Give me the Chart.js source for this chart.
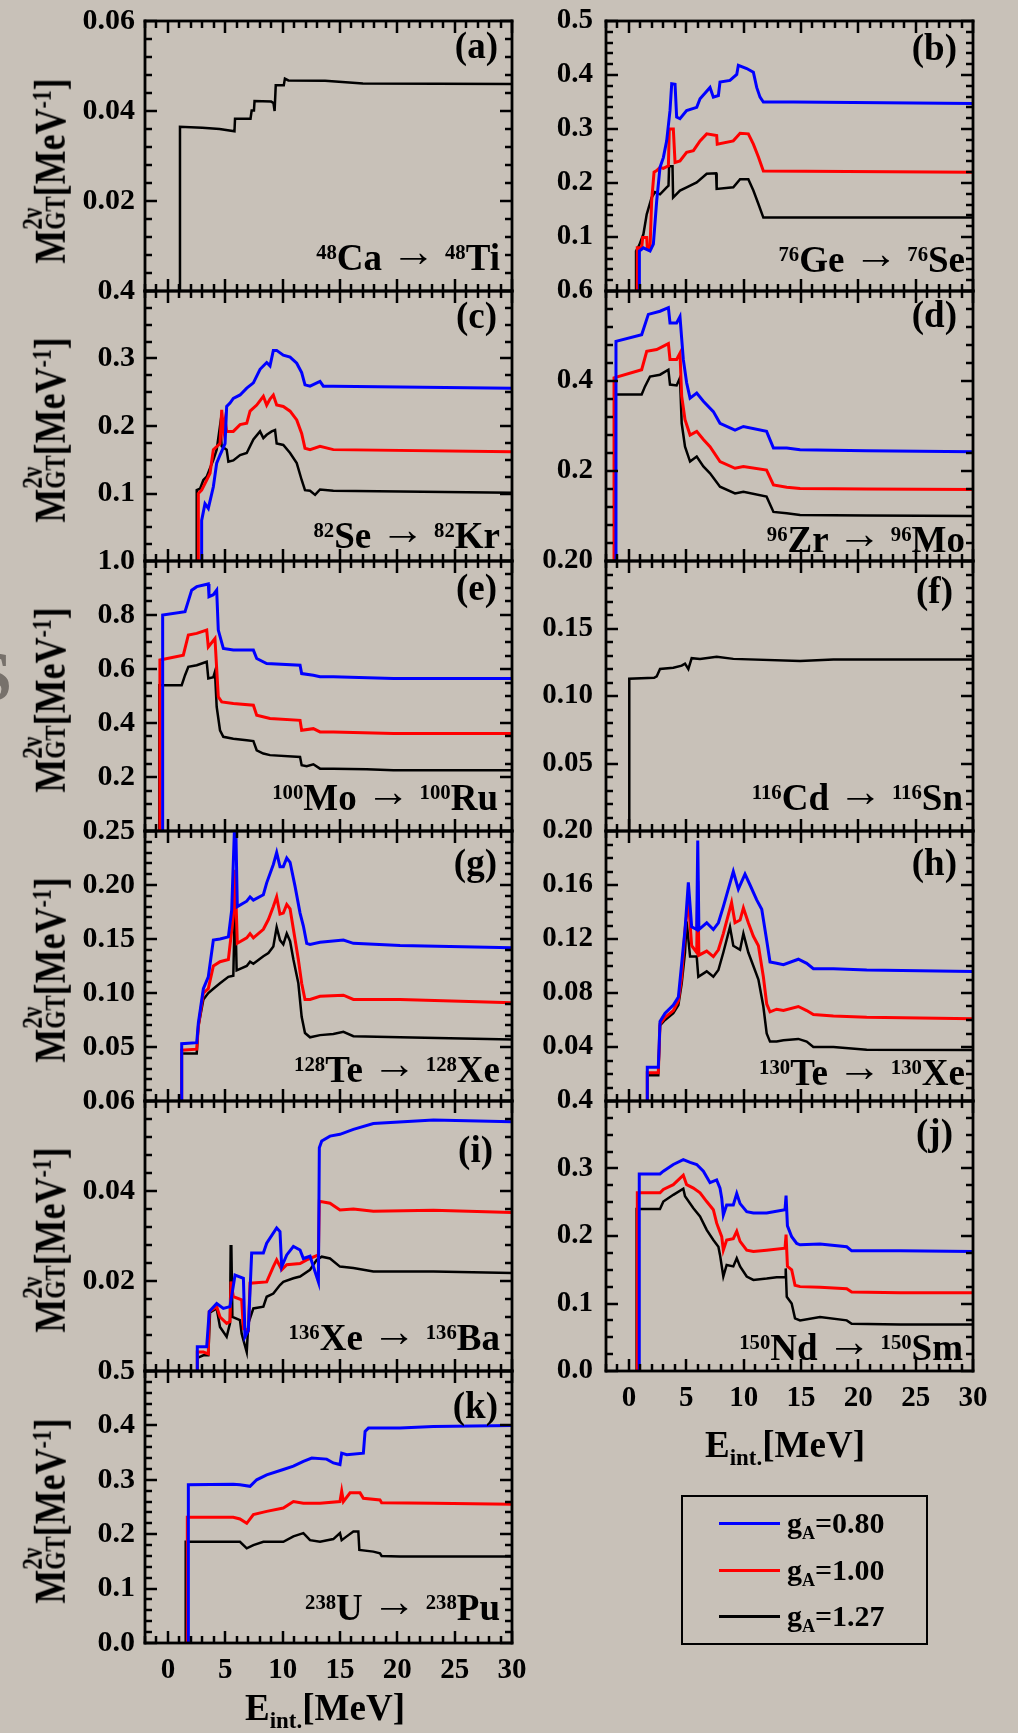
<!DOCTYPE html>
<html>
<head>
<meta charset="utf-8">
<script src="https://cdn.jsdelivr.net/npm/chart.js@4.4.0/dist/chart.umd.min.js"></script>
<style>
  body { margin: 0; background: #c8c1b8; }
  #page { position: relative; width: 1018px; height: 1733px; overflow: hidden;
          font-family: "Liberation Serif", "Times New Roman", serif; font-weight: bold; color: #000; }
  canvas { position: absolute; }
  .txt { position: absolute; white-space: nowrap; line-height: 1; }
  .sp { font-size: 0.56em; position: relative; top: -0.55em; }
  .sb { font-size: 0.62em; position: relative; top: 0.35em; }
  .arr { font-family: "Liberation Sans", Arial, sans-serif; font-weight: normal; font-size: 1.2em;
         line-height: 0; position: relative; top: -0.1em; }
  .yt { position: absolute; white-space: nowrap; line-height: 1; font-size: 36px;
        transform: translate(-50%, -50%) rotate(-90deg) scaleY(1.25); }
  .yt .sp { font-size: 0.6em; top: -0.5em; }
  .stk { display: inline-block; font-size: 0.64em; line-height: 0.78; vertical-align: baseline; }
  .stk span { display: block; }
  #ghost { position: absolute; left: -27px; top: 642px; font-size: 70px; line-height: 1; color: #77716b; }
  #legend { position: absolute; left: 681px; top: 1495px; width: 247px; height: 150px;
            box-sizing: border-box; border: 2.5px solid #000; }
  #legend .ln { position: absolute; left: 36px; width: 61px; height: 2.5px; }
  #legend .lt { position: absolute; left: 104px; font-size: 30px; line-height: 1; white-space: nowrap; }
</style>
</head>
<body>
<div id="page"><div id="ghost">S</div></div>
<script>
// E_int. tick labels shared by all panels
var xTickLabels = [0, 5, 10, 15, 20, 25, 30];

// y tick labels per panel
var yTicksA = [0.02, 0.04, 0.06];
var yTicksB = [0.1, 0.2, 0.3, 0.4, 0.5];
var yTicksC = [0.1, 0.2, 0.3, 0.4];
var yTicksD = [0.2, 0.4, 0.6];
var yTicksE = [0.2, 0.4, 0.6, 0.8, 1.0];
var yTicksF = [0.05, 0.10, 0.15, 0.20];
var yTicksG = [0.05, 0.10, 0.15, 0.20, 0.25];
var yTicksH = [0.04, 0.08, 0.12, 0.16, 0.20];
var yTicksI = [0.02, 0.04, 0.06];
var yTicksJ = [0.0, 0.1, 0.2, 0.3, 0.4];
var yTicksK = [0.0, 0.1, 0.2, 0.3, 0.4, 0.5];

var gaValues = ["0.80", "1.00", "1.27"];
var seriesColors = ["#0000ff", "#ff0000", "#000000"];

// (a) 48Ca -> 48Ti
var caX = [1.05, 1.05, 3.0, 4.5, 5.8, 5.85, 7.2, 7.3, 7.5, 7.55, 9.0, 9.2, 9.3, 9.4, 10.1, 10.2, 10.5, 13.7, 17.0, 30];
var caY = [0, 0.0365, 0.0363, 0.0360, 0.0355, 0.0383, 0.0383, 0.0401, 0.0401, 0.0422, 0.0421, 0.0418, 0.0400, 0.0457, 0.0457, 0.0472, 0.0468, 0.0467, 0.0461, 0.0460];

// (b) 76Ge -> 76Se
var geX080 = [0.91, 0.91, 1.26, 1.84, 2.13, 2.42, 2.71, 3.0, 3.29, 3.58, 3.73, 4.02, 4.16, 4.45, 5.03, 5.91, 6.2, 7.07, 7.36, 7.8, 7.94, 8.81, 9.4, 9.54, 10.27, 10.85, 11.14, 11.43, 11.72, 14.34, 30];
var geY080 = [0, 0.074, 0.080, 0.074, 0.087, 0.167, 0.229, 0.247, 0.278, 0.334, 0.384, 0.383, 0.322, 0.319, 0.334, 0.340, 0.356, 0.377, 0.359, 0.362, 0.387, 0.390, 0.401, 0.418, 0.412, 0.405, 0.377, 0.359, 0.350, 0.350, 0.347];
var geX100 = [0.73, 0.73, 1.11, 1.2, 1.55, 1.6, 1.84, 1.98, 2.19, 2.42, 2.71, 3.0, 3.44, 3.52, 3.87, 4.02, 4.45, 5.03, 5.62, 6.2, 6.78, 7.65, 7.7, 9.1, 9.4, 9.69, 10.41, 10.85, 11.29, 11.72, 30];
var geY100 = [0, 0.080, 0.080, 0.099, 0.099, 0.080, 0.080, 0.167, 0.220, 0.223, 0.229, 0.227, 0.232, 0.300, 0.300, 0.238, 0.241, 0.257, 0.260, 0.278, 0.291, 0.288, 0.272, 0.278, 0.285, 0.292, 0.291, 0.272, 0.248, 0.222, 0.220];
var geX127 = [0.62, 0.62, 0.9, 1.26, 1.55, 1.98, 2.27, 2.71, 3.29, 3.45, 3.5, 3.8, 3.85, 4.45, 5.03, 5.91, 6.78, 7.6, 7.65, 9.1, 9.69, 10.41, 10.85, 11.29, 11.72, 30];
var geY127 = [0, 0.074, 0.085, 0.105, 0.142, 0.173, 0.183, 0.179, 0.192, 0.195, 0.231, 0.231, 0.173, 0.186, 0.192, 0.201, 0.217, 0.218, 0.189, 0.192, 0.207, 0.207, 0.186, 0.161, 0.136, 0.136];

// (c) 82Se -> 82Kr
var seX080 = [2.94, 2.94, 3.23, 3.52, 3.96, 4.25, 4.54, 4.98, 5.12, 5.41, 5.7, 6.29, 6.87, 7.45, 8.03, 8.61, 8.9, 9.19, 9.48, 10.06, 10.65, 11.23, 11.66, 11.95, 12.39, 13.26, 13.55, 14.42, 30];
var seY080 = [0, 0.060, 0.085, 0.078, 0.110, 0.145, 0.157, 0.174, 0.229, 0.234, 0.241, 0.246, 0.256, 0.264, 0.284, 0.294, 0.289, 0.312, 0.312, 0.305, 0.302, 0.293, 0.279, 0.261, 0.259, 0.266, 0.259, 0.259, 0.256];
var seX100 = [2.65, 2.65, 2.94, 3.38, 3.67, 3.96, 4.54, 4.69, 4.83, 4.98, 5.12, 5.7, 6.29, 6.87, 7.16, 7.74, 8.32, 8.61, 8.9, 9.19, 9.48, 10.06, 10.65, 11.23, 11.66, 11.95, 12.39, 13.26, 14.42, 30];
var seY100 = [0, 0.100, 0.105, 0.120, 0.130, 0.165, 0.174, 0.224, 0.194, 0.209, 0.192, 0.192, 0.202, 0.204, 0.222, 0.231, 0.244, 0.231, 0.240, 0.246, 0.231, 0.229, 0.222, 0.209, 0.189, 0.167, 0.165, 0.170, 0.165, 0.162];
var seX127 = [2.51, 2.51, 2.8, 3.09, 3.38, 3.96, 4.25, 4.54, 4.69, 5.12, 5.27, 5.7, 6.29, 6.87, 7.45, 8.03, 8.32, 8.61, 9.05, 9.34, 9.48, 10.06, 10.65, 11.23, 11.66, 11.95, 12.39, 12.83, 13.26, 14.42, 30];
var seY127 = [0, 0.105, 0.107, 0.120, 0.125, 0.150, 0.165, 0.200, 0.170, 0.165, 0.147, 0.149, 0.157, 0.160, 0.180, 0.192, 0.182, 0.187, 0.192, 0.194, 0.174, 0.172, 0.160, 0.145, 0.120, 0.105, 0.104, 0.098, 0.106, 0.104, 0.101];

// (d) 96Zr -> 96Mo
var zrX080 = [-1.13, -1.13, 1.11, 1.69, 2.71, 3.44, 3.58, 4.16, 4.45, 4.74, 5.03, 5.33, 5.91, 6.49, 7.36, 7.94, 9.25, 9.98, 12.0, 12.6, 13.76, 14.92, 20.7, 30];
var zrY080 = [0, 0.488, 0.503, 0.548, 0.555, 0.563, 0.529, 0.529, 0.543, 0.448, 0.396, 0.362, 0.373, 0.355, 0.332, 0.306, 0.291, 0.299, 0.288, 0.251, 0.251, 0.247, 0.245, 0.243];
var zrX100 = [-1.3, -1.3, 1.11, 1.55, 2.42, 3.44, 3.58, 4.16, 4.45, 4.6, 4.89, 5.33, 5.91, 6.49, 7.07, 7.94, 9.25, 9.98, 12.0, 12.6, 13.76, 14.92, 20.7, 30];
var zrY100 = [0, 0.407, 0.425, 0.466, 0.470, 0.483, 0.448, 0.448, 0.462, 0.366, 0.314, 0.280, 0.288, 0.270, 0.254, 0.221, 0.206, 0.210, 0.202, 0.169, 0.164, 0.161, 0.160, 0.159];
var zrX127 = [-1.22, -1.22, 1.11, 1.4, 1.84, 2.71, 3.44, 3.58, 4.16, 4.45, 4.6, 4.89, 5.33, 5.91, 6.49, 7.07, 7.94, 9.25, 9.98, 12.0, 12.6, 13.76, 14.92, 20.7, 30];
var zrY127 = [0, 0.370, 0.370, 0.388, 0.410, 0.414, 0.425, 0.392, 0.390, 0.407, 0.306, 0.254, 0.221, 0.232, 0.210, 0.195, 0.165, 0.150, 0.154, 0.143, 0.109, 0.106, 0.102, 0.101, 0.100];

// (e) 100Mo -> 100Ru
var moX080 = [-0.46, -0.46, 1.49, 2.07, 2.51, 3.52, 3.58, 3.96, 4.25, 4.39, 4.83, 5.7, 7.45, 7.74, 8.61, 11.52, 11.66, 12.68, 13.26, 14.42, 19.66, 30];
var moY080 = [0, 0.800, 0.812, 0.892, 0.905, 0.915, 0.868, 0.875, 0.892, 0.744, 0.676, 0.670, 0.670, 0.639, 0.620, 0.614, 0.583, 0.577, 0.571, 0.571, 0.565, 0.565];
var moX100 = [-0.7, -0.7, 1.34, 1.78, 2.51, 3.38, 3.52, 4.1, 4.39, 4.69, 5.7, 7.45, 7.74, 8.9, 11.52, 11.66, 12.68, 13.26, 14.42, 19.66, 30];
var moY100 = [0, 0.633, 0.651, 0.726, 0.732, 0.744, 0.682, 0.713, 0.497, 0.478, 0.472, 0.466, 0.429, 0.417, 0.410, 0.373, 0.379, 0.367, 0.367, 0.361, 0.361];
var moX127 = [-0.75, -0.75, 1.2, 1.49, 1.78, 2.51, 3.38, 3.52, 3.96, 4.1, 4.25, 4.54, 4.83, 5.7, 6.87, 7.45, 7.74, 8.32, 8.9, 11.52, 11.66, 12.1, 12.68, 13.26, 14.42, 17.33, 19.66, 30];
var moY127 = [0, 0.540, 0.540, 0.577, 0.608, 0.614, 0.627, 0.565, 0.570, 0.590, 0.460, 0.373, 0.349, 0.342, 0.336, 0.333, 0.299, 0.287, 0.281, 0.274, 0.244, 0.240, 0.247, 0.231, 0.231, 0.229, 0.225, 0.225];

// (f) 116Cd -> 116Sn
var cdX = [0.03, 0.03, 2.2, 2.42, 2.71, 3.87, 4.6, 4.89, 5.18, 5.47, 6.2, 7.65, 9.1, 14.92, 17.83, 30];
var cdY = [0, 0.1128, 0.1135, 0.1145, 0.120, 0.121, 0.1225, 0.124, 0.120, 0.128, 0.1275, 0.129, 0.1275, 0.126, 0.127, 0.127];

// (g) 128Te -> 128Xe
var teaX080 = [1.2, 1.2, 2.51, 2.65, 3.09, 3.52, 3.96, 4.54, 5.27, 5.56, 5.8, 5.92, 6.05, 6.87, 7.16, 7.45, 8.32, 8.61, 9.19, 9.48, 9.77, 10.06, 10.36, 10.65, 11.08, 11.52, 11.81, 12.1, 12.39, 13.26, 15.3, 16.17, 20.24, 30];
var teaY080 = [0, 0.053, 0.054, 0.072, 0.104, 0.115, 0.149, 0.150, 0.152, 0.177, 0.252, 0.252, 0.180, 0.185, 0.189, 0.186, 0.191, 0.202, 0.219, 0.230, 0.217, 0.217, 0.225, 0.221, 0.199, 0.174, 0.162, 0.146, 0.145, 0.147, 0.149, 0.146, 0.144, 0.142];
var teaX100 = [1.2, 1.2, 2.51, 2.65, 3.09, 3.52, 3.96, 4.54, 5.27, 5.7, 5.85, 6.05, 6.87, 7.16, 7.45, 8.32, 8.76, 9.19, 9.48, 9.77, 10.06, 10.36, 10.65, 10.94, 11.37, 11.66, 11.95, 12.39, 13.26, 15.3, 16.17, 20.24, 30];
var teaY100 = [0, 0.047, 0.048, 0.069, 0.100, 0.104, 0.125, 0.129, 0.131, 0.171, 0.214, 0.146, 0.151, 0.155, 0.151, 0.159, 0.168, 0.180, 0.189, 0.173, 0.174, 0.182, 0.178, 0.159, 0.131, 0.109, 0.094, 0.094, 0.097, 0.098, 0.094, 0.094, 0.091];
var teaX127 = [1.2, 1.2, 2.51, 2.65, 3.09, 3.52, 3.96, 4.54, 5.27, 5.7, 5.85, 5.99, 6.87, 7.16, 7.45, 8.32, 8.76, 9.19, 9.48, 9.77, 10.06, 10.36, 10.65, 10.94, 11.37, 11.66, 11.95, 12.39, 13.26, 14.42, 15.3, 16.17, 20.24, 30];
var teaY127 = [0, 0.044, 0.044, 0.069, 0.094, 0.100, 0.104, 0.109, 0.115, 0.116, 0.188, 0.121, 0.125, 0.129, 0.127, 0.134, 0.137, 0.143, 0.161, 0.149, 0.145, 0.155, 0.148, 0.131, 0.109, 0.078, 0.063, 0.059, 0.061, 0.062, 0.064, 0.060, 0.059, 0.057];

// (h) 130Te -> 130Xe
var tebX080 = [1.6, 1.6, 2.56, 2.71, 3.15, 3.87, 4.31, 4.6, 4.89, 5.18, 5.47, 5.91, 6.0, 6.1, 6.78, 7.36, 7.8, 8.23, 9.1, 9.54, 10.12, 10.56, 11.14, 11.58, 12.01, 12.3, 12.88, 13.47, 14.77, 15.5, 16.08, 17.83, 20.73, 30];
var tebY080 = [0, 0.025, 0.025, 0.059, 0.065, 0.071, 0.077, 0.102, 0.127, 0.162, 0.129, 0.127, 0.193, 0.127, 0.132, 0.127, 0.132, 0.144, 0.170, 0.157, 0.168, 0.160, 0.149, 0.142, 0.119, 0.103, 0.102, 0.101, 0.105, 0.102, 0.098, 0.098, 0.097, 0.096];
var tebX100 = [1.6, 1.6, 2.56, 2.71, 3.15, 3.87, 4.31, 4.6, 4.89, 5.18, 5.47, 5.91, 6.0, 6.1, 6.78, 7.36, 7.8, 8.23, 8.95, 9.25, 9.69, 9.98, 10.41, 10.85, 11.29, 11.72, 12.01, 12.3, 12.88, 13.47, 14.77, 15.5, 16.08, 17.83, 20.73, 30];
var tebY100 = [0, 0.021, 0.021, 0.057, 0.062, 0.067, 0.074, 0.092, 0.127, 0.149, 0.115, 0.110, 0.163, 0.108, 0.111, 0.107, 0.112, 0.124, 0.147, 0.132, 0.134, 0.143, 0.132, 0.122, 0.115, 0.092, 0.072, 0.066, 0.068, 0.067, 0.070, 0.067, 0.064, 0.063, 0.062, 0.061];
var tebX127 = [1.6, 1.6, 2.56, 2.71, 3.15, 3.87, 4.31, 4.6, 4.89, 5.03, 5.33, 5.91, 6.05, 6.78, 7.36, 7.8, 8.23, 8.81, 9.1, 9.69, 9.98, 10.41, 10.85, 11.29, 11.72, 12.01, 12.3, 12.88, 13.47, 14.77, 15.5, 16.08, 17.83, 20.73, 30];
var tebY127 = [0, 0.019, 0.019, 0.056, 0.060, 0.065, 0.071, 0.087, 0.110, 0.133, 0.107, 0.107, 0.092, 0.096, 0.092, 0.097, 0.110, 0.129, 0.115, 0.112, 0.124, 0.110, 0.100, 0.090, 0.070, 0.050, 0.044, 0.044, 0.045, 0.046, 0.044, 0.040, 0.040, 0.038, 0.0377];

// (i) 136Xe -> 136Ba
var xeX080 = [2.56, 2.56, 3.38, 3.6, 4.25, 4.83, 5.41, 5.85, 6.58, 6.72, 7.01, 7.3, 8.32, 8.61, 9.48, 9.77, 9.92, 10.36, 10.94, 11.52, 11.81, 12.39, 13.12, 13.2, 13.41, 14.13, 15.0, 16.17, 17.91, 23.15, 30];
var xeY080 = [0, 0.0054, 0.0054, 0.0132, 0.0150, 0.0139, 0.0143, 0.0213, 0.0206, 0.0076, 0.0090, 0.0262, 0.0262, 0.0284, 0.0318, 0.0310, 0.0232, 0.0258, 0.0277, 0.0269, 0.0250, 0.0255, 0.0198, 0.0496, 0.0511, 0.0522, 0.0526, 0.0537, 0.0550, 0.0558, 0.0554];
var xeX100 = [2.56, 2.56, 3.09, 3.52, 3.6, 4.25, 4.54, 5.12, 5.41, 5.5, 5.7, 6.43, 6.58, 7.01, 7.16, 8.61, 9.19, 9.48, 9.92, 10.36, 11.52, 12.1, 13.12, 13.2, 14.13, 15.0, 16.17, 17.91, 23.15, 30];
var xeY100 = [0, 0.0042, 0.0042, 0.0038, 0.0132, 0.0143, 0.0120, 0.0106, 0.0110, 0.0199, 0.0165, 0.0158, 0.0094, 0.0090, 0.0195, 0.0198, 0.0232, 0.0247, 0.0225, 0.0236, 0.0239, 0.0247, 0.0258, 0.0377, 0.0373, 0.0358, 0.0360, 0.0355, 0.0357, 0.0352];
var xeX127 = [2.56, 2.56, 3.09, 3.52, 3.67, 4.25, 4.54, 5.12, 5.41, 5.47, 5.53, 5.62, 6.28, 6.43, 6.87, 7.01, 7.45, 8.32, 8.61, 9.19, 9.77, 10.06, 10.94, 11.52, 12.39, 12.97, 13.41, 14.13, 15.0, 16.17, 17.91, 23.15, 30];
var xeY127 = [0, 0.0029, 0.0035, 0.0035, 0.0130, 0.0139, 0.0098, 0.0076, 0.0106, 0.0277, 0.0277, 0.0120, 0.0113, 0.0083, 0.0042, 0.0106, 0.0139, 0.0143, 0.0165, 0.0172, 0.0191, 0.0198, 0.0206, 0.0210, 0.0225, 0.0247, 0.0254, 0.0250, 0.0232, 0.0229, 0.0221, 0.0221, 0.0218];

// (j) 150Nd -> 150Sm
var ndX080 = [0.9, 0.9, 2.71, 3.0, 3.87, 4.74, 5.33, 5.91, 6.49, 7.07, 7.65, 7.94, 8.09, 8.23, 8.52, 9.1, 9.4, 9.69, 10.27, 10.85, 12.01, 13.61, 13.7, 13.82, 14.19, 14.63, 14.92, 16.66, 18.99, 19.42, 23.64, 30];
var ndY080 = [0, 0.292, 0.292, 0.296, 0.306, 0.313, 0.309, 0.306, 0.296, 0.279, 0.283, 0.271, 0.256, 0.231, 0.246, 0.246, 0.263, 0.248, 0.236, 0.234, 0.234, 0.239, 0.260, 0.215, 0.199, 0.189, 0.187, 0.188, 0.184, 0.178, 0.178, 0.177];
var ndX100 = [0.73, 0.73, 2.71, 3.0, 3.87, 4.74, 5.03, 5.62, 6.2, 6.78, 7.36, 7.65, 8.09, 8.23, 8.52, 9.1, 9.4, 9.69, 10.27, 10.85, 12.01, 13.61, 13.7, 13.82, 14.19, 14.48, 14.92, 16.66, 18.99, 19.42, 23.64, 30];
var ndY100 = [0, 0.264, 0.264, 0.269, 0.276, 0.290, 0.276, 0.271, 0.264, 0.251, 0.239, 0.219, 0.199, 0.179, 0.194, 0.196, 0.207, 0.192, 0.179, 0.177, 0.179, 0.182, 0.202, 0.155, 0.150, 0.127, 0.125, 0.124, 0.122, 0.117, 0.116, 0.116];
var ndX127 = [0.67, 0.67, 2.71, 3.0, 3.87, 4.74, 4.89, 5.62, 6.2, 6.78, 7.36, 7.8, 7.94, 8.23, 8.52, 9.1, 9.4, 9.69, 10.27, 10.85, 12.01, 12.88, 13.61, 13.67, 13.76, 14.19, 14.48, 14.92, 16.66, 18.99, 19.42, 23.64, 30];
var ndY127 = [0, 0.240, 0.240, 0.251, 0.261, 0.270, 0.259, 0.241, 0.229, 0.209, 0.194, 0.184, 0.172, 0.140, 0.157, 0.155, 0.167, 0.155, 0.140, 0.135, 0.137, 0.139, 0.139, 0.152, 0.110, 0.100, 0.078, 0.075, 0.080, 0.075, 0.070, 0.069, 0.069];

// (k) 238U -> 238Pu
var uX080 = [1.78, 1.78, 5.7, 6.28, 7.16, 7.74, 8.61, 10.06, 10.94, 11.81, 12.54, 13.84, 14.42, 15.0, 15.15, 15.59, 17.04, 17.19, 17.48, 20.24, 23.15, 30];
var uY080 = [0, 0.291, 0.292, 0.291, 0.288, 0.300, 0.309, 0.319, 0.325, 0.334, 0.340, 0.338, 0.331, 0.328, 0.349, 0.346, 0.349, 0.389, 0.395, 0.395, 0.398, 0.400];
var uX100 = [1.69, 1.69, 5.7, 6.28, 6.87, 7.45, 8.61, 10.06, 10.94, 11.81, 13.26, 15.0, 15.15, 15.3, 15.88, 16.75, 17.04, 18.49, 18.63, 23.15, 30];
var uY100 = [0, 0.231, 0.231, 0.228, 0.220, 0.236, 0.242, 0.248, 0.260, 0.257, 0.257, 0.260, 0.279, 0.260, 0.276, 0.276, 0.266, 0.263, 0.258, 0.257, 0.255];
var uX127 = [1.55, 1.55, 6.28, 6.87, 7.45, 8.32, 10.06, 10.94, 11.81, 12.39, 13.26, 14.42, 15.0, 15.15, 15.59, 16.17, 16.6, 16.69, 17.91, 18.49, 18.63, 20.24, 30];
var uY127 = [0, 0.186, 0.186, 0.174, 0.180, 0.186, 0.186, 0.196, 0.202, 0.189, 0.186, 0.191, 0.202, 0.189, 0.196, 0.205, 0.205, 0.171, 0.168, 0.165, 0.160, 0.159, 0.159];

// panel layout: column, row, axis range, lines [x, y, colour index], labels
var panels = [
  { col: 0, row: 0, yMax: 0.06, ticks: yTicksA, major: 0.02, minor: 0.004, dec: 2, lines: [[caX, caY, 2]],
    tag: "(a)", tagR: 498, tagB: 58, iso: ["48", "Ca", "48", "Ti"], isoR: 500, isoB: 270 },
  { col: 1, row: 0, yMax: 0.5, ticks: yTicksB, major: 0.1, minor: 0.02, dec: 1,
    lines: [[geX080, geY080, 0], [geX100, geY100, 1], [geX127, geY127, 2]],
    tag: "(b)", tagR: 957, tagB: 60, iso: ["76", "Ge", "76", "Se"], isoR: 965, isoB: 272 },
  { col: 0, row: 1, yMax: 0.4, ticks: yTicksC, major: 0.1, minor: 0.025, dec: 1,
    lines: [[seX080, seY080, 0], [seX100, seY100, 1], [seX127, seY127, 2]],
    tag: "(c)", tagR: 497, tagB: 328, iso: ["82", "Se", "82", "Kr"], isoR: 500, isoB: 548 },
  { col: 1, row: 1, yMax: 0.6, ticks: yTicksD, major: 0.2, minor: 0.04, dec: 1,
    lines: [[zrX080, zrY080, 0], [zrX100, zrY100, 1], [zrX127, zrY127, 2]],
    tag: "(d)", tagR: 957, tagB: 327, iso: ["96", "Zr", "96", "Mo"], isoR: 965, isoB: 552 },
  { col: 0, row: 2, yMax: 1.0, ticks: yTicksE, major: 0.2, minor: 0.05, dec: 1,
    lines: [[moX080, moY080, 0], [moX100, moY100, 1], [moX127, moY127, 2]],
    tag: "(e)", tagR: 497, tagB: 600, iso: ["100", "Mo", "100", "Ru"], isoR: 498, isoB: 810 },
  { col: 1, row: 2, yMax: 0.2, ticks: yTicksF, major: 0.05, minor: 0.01, dec: 2, lines: [[cdX, cdY, 2]],
    tag: "(f)", tagR: 953, tagB: 603, iso: ["116", "Cd", "116", "Sn"], isoR: 963, isoB: 810 },
  { col: 0, row: 3, yMax: 0.25, ticks: yTicksG, major: 0.05, minor: 0.01, dec: 2,
    lines: [[teaX080, teaY080, 0], [teaX100, teaY100, 1], [teaX127, teaY127, 2]],
    tag: "(g)", tagR: 497, tagB: 875, iso: ["128", "Te", "128", "Xe"], isoR: 500, isoB: 1082 },
  { col: 1, row: 3, yMax: 0.2, ticks: yTicksH, major: 0.04, minor: 0.01, dec: 2,
    lines: [[tebX080, tebY080, 0], [tebX100, tebY100, 1], [tebX127, tebY127, 2]],
    tag: "(h)", tagR: 957, tagB: 875, iso: ["130", "Te", "130", "Xe"], isoR: 965, isoB: 1085 },
  { col: 0, row: 4, yMax: 0.06, ticks: yTicksI, major: 0.02, minor: 0.004, dec: 2,
    lines: [[xeX080, xeY080, 0], [xeX100, xeY100, 1], [xeX127, xeY127, 2]],
    tag: "(i)", tagR: 493, tagB: 1162, iso: ["136", "Xe", "136", "Ba"], isoR: 500, isoB: 1350 },
  { col: 1, row: 4, yMax: 0.4, ticks: yTicksJ, major: 0.1, minor: 0.025, dec: 1, xLabels: true,
    lines: [[ndX080, ndY080, 0], [ndX100, ndY100, 1], [ndX127, ndY127, 2]],
    tag: "(j)", tagR: 953, tagB: 1145, iso: ["150", "Nd", "150", "Sm"], isoR: 963, isoB: 1360 },
  { col: 0, row: 5, yMax: 0.5, ticks: yTicksK, major: 0.1, minor: 0.02, dec: 1, xLabels: true,
    lines: [[uX080, uY080, 0], [uX100, uY100, 1], [uX127, uY127, 2]],
    tag: "(k)", tagR: 498, tagB: 1418, iso: ["238", "U", "238", "Pu"], isoR: 500, isoB: 1620 }
];

function pts(xs, ys) {
  return xs.map(function (x, i) { return { x: x, y: ys[i] }; });
}

// frame box with inward major/minor ticks on all four sides (positions from the chart's own scales)
var frameTicks = {
  id: "frameTicks",
  afterDraw: function (chart) {
    var p = chart.config.options.panel;
    var ctx = chart.ctx, a = chart.chartArea;
    var xs = chart.scales.x, ys = chart.scales.y;
    var w = 2.5;
    ctx.save();
    ctx.fillStyle = "#000";
    for (var v = -2; v <= 30; v++) {
      var px = Math.round(xs.getPixelForValue(v));
      var len = v % 5 === 0 ? 12 : 7;
      ctx.fillRect(px - w / 2, a.bottom - len, w, len);
      ctx.fillRect(px - w / 2, a.top, w, len);
    }
    var n = Math.round(p.yMax / p.minor);
    var every = Math.round(p.major / p.minor);
    for (var k = 0; k <= n; k++) {
      var py = Math.round(ys.getPixelForValue(k * p.minor));
      var l = k % every === 0 ? 12 : 7;
      ctx.fillRect(a.left, py - w / 2, l, w);
      ctx.fillRect(a.right - l, py - w / 2, l, w);
    }
    var b = 2.8;
    ctx.fillRect(a.left - b / 2, a.top - b / 2, a.right - a.left + b, b);
    ctx.fillRect(a.left - b / 2, a.bottom - b / 2, a.right - a.left + b, b);
    ctx.fillRect(a.left - b / 2, a.top - b / 2, b, a.bottom - a.top + b);
    ctx.fillRect(a.right - b / 2, a.top - b / 2, b, a.bottom - a.top + b);
    ctx.restore();
  }
};

var page = document.getElementById("page");
function tickFont(size) {
  return { family: "'Liberation Serif', 'Times New Roman', serif", size: size, weight: "bold" };
}

function addText(html, cls, style) {
  var d = document.createElement("div");
  d.className = cls;
  d.innerHTML = html;
  for (var k in style) d.style[k] = style[k];
  page.appendChild(d);
  return d;
}

panels.forEach(function (p) {
  var ph = (p.col === 0 && p.row === 5) ? 272 : 270;
  var top = 21 + 270 * p.row;
  var bottomAxis = !!p.xLabels;
  var cw = p.col === 0 ? 530 : 488;
  var fs = p.col === 0 ? 30 : 29;
  var cv = document.createElement("canvas");
  cv.width = cw;
  cv.height = 20 + ph + (bottomAxis ? 40 : 0) + 20;
  cv.style.left = (p.col === 0 ? 0 : 530) + "px";
  cv.style.top = (top - 20) + "px";
  page.appendChild(cv);

  new Chart(cv.getContext("2d"), {
    type: "line",
    data: {
      datasets: p.lines.map(function (l) {
        return { data: pts(l[0], l[1]), borderColor: seriesColors[l[2]], borderWidth: l[2] === 2 ? 2.5 : 3,
                 pointRadius: 0, fill: false, tension: 0 };
      })
    },
    options: {
      panel: p,
      responsive: false,
      animation: false,
      devicePixelRatio: 1,
      layout: { padding: { left: 0, top: 20, right: p.col === 0 ? 18 : 45, bottom: 20 } },
      plugins: {
        legend: { display: false },
        tooltip: { enabled: false }
      },
      scales: {
        x: {
          type: "linear", min: -2, max: 30,
          grid: { display: false, drawTicks: false },
          border: { display: false },
          ticks: { display: bottomAxis, padding: 10, font: tickFont(29), color: "#000", maxRotation: 0, autoSkip: false },
          afterBuildTicks: function (s) { s.ticks = xTickLabels.map(function (v) { return { value: v }; }); },
          afterFit: function (s) { s.height = bottomAxis ? 40 : 0; s.paddingLeft = 0; s.paddingRight = 0; }
        },
        y: {
          type: "linear", min: 0, max: p.yMax,
          grid: { display: false, drawTicks: false },
          border: { display: false },
          ticks: { padding: p.col === 0 ? 10 : 13, font: tickFont(fs), color: "#000", autoSkip: false,
                   callback: function (v) { return Number(v).toFixed(p.dec); } },
          afterBuildTicks: function (s) { s.ticks = p.ticks.map(function (v) { return { value: v }; }); },
          afterFit: function (s) { s.width = p.col === 0 ? 145 : 76; s.paddingTop = 0; s.paddingBottom = 0; }
        }
      }
    },
    plugins: [frameTicks]
  });

  // panel tag and reaction label
  addText(p.tag, "txt", { fontSize: "37px", right: (1018 - p.tagR) + "px", top: (p.tagB - 31) + "px" });
  addText('<span class="sp">' + p.iso[0] + "</span>" + p.iso[1] + ' <span class="arr">\u2192</span> ' +
          '<span class="sp">' + p.iso[2] + "</span>" + p.iso[3],
          "txt", { fontSize: "37px", right: (1018 - p.isoR) + "px", top: (p.isoB - 31) + "px" });

  // y axis title on the left column
  if (p.col === 0) {
    var cy = top + ph / 2 + (p.row === 0 ? 15 : 4);
    addText('M<span class="stk"><span>2\u03bd</span><span>GT</span></span>[MeV<span class="sp">-1</span>]',
            "yt", { left: "47px", top: cy + "px" });
  }
  // x axis title under the bottom panels
  if (bottomAxis) {
    var cx = p.col === 0 ? 325 : 785;
    var base = top + ph + (p.col === 0 ? 77 : 86);
    addText('E<span class="sb">int.</span>[MeV]', "txt",
            { fontSize: "37px", left: cx + "px", top: (base - 31) + "px", transform: "translateX(-50%)" });
  }
});

// legend box
var legend = document.createElement("div");
legend.id = "legend";
page.appendChild(legend);
var rowY = [28, 75, 121];
gaValues.forEach(function (g, i) {
  var ln = document.createElement("div");
  ln.className = "ln";
  ln.style.top = (rowY[i] - 3) + "px";
  ln.style.background = seriesColors[i];
  legend.appendChild(ln);
  var t = document.createElement("div");
  t.className = "lt";
  t.style.top = (rowY[i] + 10 - 25 - 2) + "px";
  t.innerHTML = 'g<span class="sb" style="font-size:0.6em">A</span>=' + g;
  legend.appendChild(t);
});
</script>
</body>
</html>
